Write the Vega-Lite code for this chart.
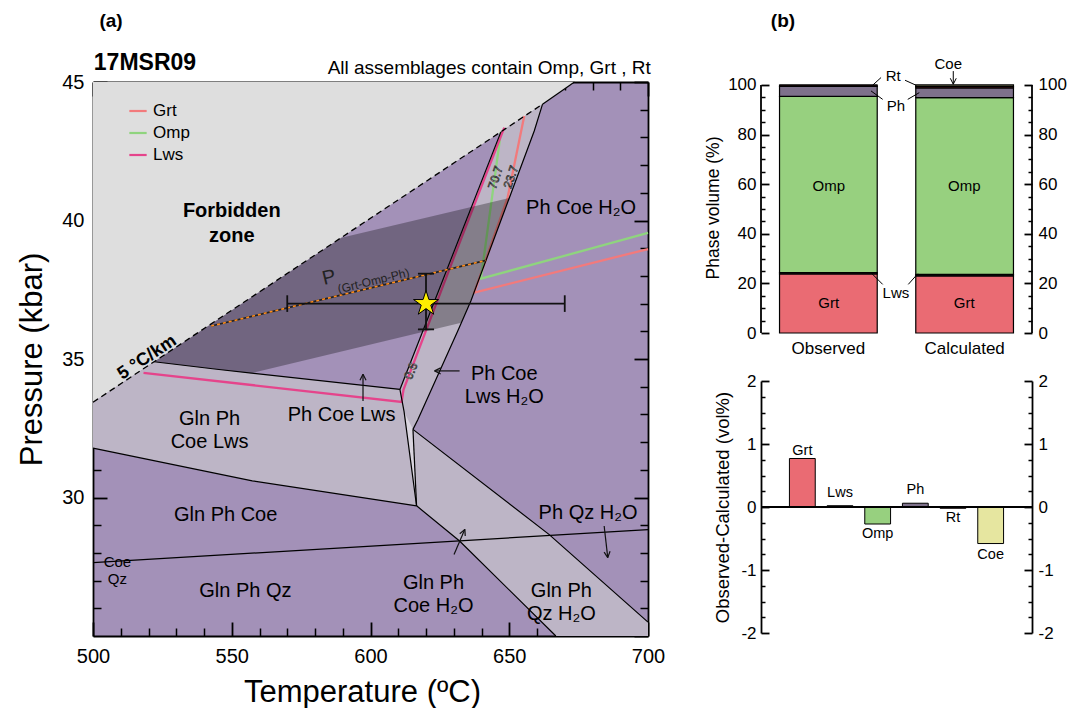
{
"$schema":"https://vega.github.io/schema/vega-lite/v6.json",
"background":"white",
"padding":{"left":16,"top":11,"right":5,"bottom":5},
"config":{"font":"Liberation Sans","view":{"stroke":null},"axis":{"grid":false,"labelFlush":false,"labelOverlap":false,"tickColor":"black","domainColor":"black","labelColor":"black","titleColor":"black","titleFontWeight":"normal","zindex":1},"legend":{"labelColor":"black"}},
"datasets":{
"fields":[
{"poly":"f0","kind":"forbidden","i":0,"T":500,"P":33.44},{"poly":"f0","kind":"forbidden","i":1,"T":662,"P":44.2},{"poly":"f0","kind":"forbidden","i":2,"T":673.5,"P":45},{"poly":"f0","kind":"forbidden","i":3,"T":500,"P":45},
{"poly":"f1","kind":"light","i":0,"T":500,"P":31.78},{"poly":"f1","kind":"light","i":1,"T":500,"P":33.44},{"poly":"f1","kind":"light","i":2,"T":522,"P":34.9},{"poly":"f1","kind":"light","i":3,"T":544.6,"P":34.63},{"poly":"f1","kind":"light","i":4,"T":610.6,"P":33.9},{"poly":"f1","kind":"light","i":5,"T":612.1,"P":33.1},{"poly":"f1","kind":"light","i":6,"T":616.6,"P":29.7},{"poly":"f1","kind":"light","i":7,"T":557.4,"P":30.6},
{"poly":"f2","kind":"light","i":0,"T":610.6,"P":33.9},{"poly":"f2","kind":"light","i":1,"T":647,"P":43.2},{"poly":"f2","kind":"light","i":2,"T":662,"P":44.2},{"poly":"f2","kind":"light","i":3,"T":659,"P":43.23},{"poly":"f2","kind":"light","i":4,"T":636.2,"P":37.1},{"poly":"f2","kind":"light","i":5,"T":631.4,"P":36.0},{"poly":"f2","kind":"light","i":6,"T":617,"P":32.8},{"poly":"f2","kind":"light","i":7,"T":615.3,"P":32.46},{"poly":"f2","kind":"light","i":8,"T":616.6,"P":29.7},{"poly":"f2","kind":"light","i":9,"T":612.1,"P":33.1},
{"poly":"f3","kind":"sliver","i":0,"T":612.1,"P":33.1},{"poly":"f3","kind":"sliver","i":1,"T":615.3,"P":32.46},{"poly":"f3","kind":"sliver","i":2,"T":616.6,"P":29.7},
{"poly":"f4","kind":"light","i":0,"T":615.3,"P":32.46},{"poly":"f4","kind":"light","i":1,"T":664.3,"P":28.67},{"poly":"f4","kind":"light","i":2,"T":700,"P":25.5},{"poly":"f4","kind":"light","i":3,"T":700,"P":25},{"poly":"f4","kind":"light","i":4,"T":666.8,"P":25},{"poly":"f4","kind":"light","i":5,"T":632.1,"P":28.43},{"poly":"f4","kind":"light","i":6,"T":616.6,"P":29.7}
],
"iso":[
{"iso":"Grt","i":0,"T":655.4,"P":43.77},{"iso":"Grt","i":1,"T":649.4,"P":40.82},{"iso":"Grt","i":2,"T":637.4,"P":37.4},{"iso":"Grt","i":3,"T":700,"P":38.97},
{"iso":"Omp","i":0,"T":647,"P":43.2},{"iso":"Omp","i":1,"T":639.8,"P":37.9},{"iso":"Omp","i":2,"T":700,"P":39.55},
{"iso":"Lws","i":0,"T":518.2,"P":34.5},{"iso":"Lws","i":1,"T":611.2,"P":33.45},{"iso":"Lws","i":2,"T":611.9,"P":33.9},{"iso":"Lws","i":3,"T":629.4,"P":38.5},{"iso":"Lws","i":4,"T":648.2,"P":43.35}
],
"shade":[
{"i":0,"T":589.5,"P":39.38},{"i":1,"T":522,"P":34.9},{"i":2,"T":544.6,"P":34.63},{"i":3,"T":557,"P":34.49},{"i":4,"T":632.7,"P":36.31},{"i":5,"T":636.2,"P":37.1},{"i":6,"T":650,"P":40.81}
],
"bnd":[
{"id":"A","i":0,"T":522,"P":34.9},{"id":"A","i":1,"T":544.6,"P":34.63},{"id":"A","i":2,"T":610.6,"P":33.9},
{"id":"B","i":0,"T":610.6,"P":33.9},{"id":"B","i":1,"T":647,"P":43.2},
{"id":"C","i":0,"T":662,"P":44.2},{"id":"C","i":1,"T":659,"P":43.23},{"id":"C","i":2,"T":636.2,"P":37.1},{"id":"C","i":3,"T":631.4,"P":36.0},{"id":"C","i":4,"T":617,"P":32.8},{"id":"C","i":5,"T":615.3,"P":32.46},
{"id":"S1","i":0,"T":610.6,"P":33.9},{"id":"S1","i":1,"T":612.1,"P":33.1},{"id":"S1","i":2,"T":616.6,"P":29.7},
{"id":"S2","i":0,"T":615.3,"P":32.46},{"id":"S2","i":1,"T":616.6,"P":29.7},
{"id":"G","i":0,"T":500,"P":31.78},{"id":"G","i":1,"T":557.4,"P":30.6},{"id":"G","i":2,"T":616.6,"P":29.7},
{"id":"H","i":0,"T":615.3,"P":32.46},{"id":"H","i":1,"T":664.3,"P":28.67},{"id":"H","i":2,"T":700,"P":25.5},
{"id":"I","i":0,"T":616.6,"P":29.7},{"id":"I","i":1,"T":632.1,"P":28.43},{"id":"I","i":2,"T":666.8,"P":25},
{"id":"J","i":0,"T":500,"P":27.65},{"id":"J","i":1,"T":700,"P":28.84},
{"id":"K","i":0,"T":662,"P":44.2},{"id":"K","i":1,"T":673.5,"P":45}
],
"geo":[{"i":0,"T":500,"P":33.44},{"i":1,"T":662,"P":44.2}],
"pl":[{"i":0,"T":542.6,"P":36.19},{"i":1,"T":641.6,"P":38.56}],
"err":[
{"T":570,"T2":670,"P":37,"P2":37},{"T":620,"T2":620,"P":36.07,"P2":38.08},
{"T":570,"T2":570,"P":36.7,"P2":37.3},{"T":670,"T2":670,"P":36.7,"P2":37.3},
{"T":617.1,"T2":622.9,"P":36.07,"P2":36.07},{"T":617.1,"T2":622.9,"P":38.08,"P2":38.08}
],
"arr":[
{"T":597.3,"T2":597.3,"P":33.48,"P2":34.45},{"T":597.3,"T2":596.2,"P":34.45,"P2":34.23},{"T":597.3,"T2":598.4,"P":34.45,"P2":34.23},
{"T":632.1,"T2":623.1,"P":34.57,"P2":34.57},{"T":623.1,"T2":625.3,"P":34.57,"P2":34.68},{"T":623.1,"T2":625.3,"P":34.57,"P2":34.46},
{"T":630.1,"T2":634,"P":27.94,"P2":28.85},{"T":634,"T2":634.14,"P":28.85,"P2":28.61},{"T":634,"T2":632.16,"P":28.85,"P2":28.69},
{"T":684.2,"T2":685.5,"P":28.97,"P2":27.83},{"T":685.5,"T2":686.33,"P":27.83,"P2":28.06},{"T":685.5,"T2":684.18,"P":27.83,"P2":28.03}
],
"txt":[
{"grp":"reg","T":675.9,"P":40.46,"t":"Ph Coe H₂O"},
{"grp":"reg","T":648.2,"P":34.45,"t":["Ph Coe","Lws H₂O"]},
{"grp":"reg","T":542,"P":32.82,"t":["Gln Ph","Coe Lws"]},
{"grp":"reg","T":589.6,"P":32.98,"t":"Ph Coe Lws"},
{"grp":"reg","T":547.8,"P":29.37,"t":"Gln Ph Coe"},
{"grp":"reg","T":554.9,"P":26.63,"t":"Gln Ph Qz"},
{"grp":"reg","T":622.7,"P":26.93,"t":["Gln Ph","Coe H₂O"]},
{"grp":"reg","T":678.4,"P":29.45,"t":"Ph Qz H₂O"},
{"grp":"reg","T":668.8,"P":26.62,"t":["Gln Ph","Qz H₂O"]},
{"grp":"small","T":508.8,"P":27.67,"t":["Coe","Qz"]},
{"grp":"bold","T":550,"P":40.35,"t":["Forbidden","zone"]},
{"grp":"geo","T":519.5,"P":35.05,"t":"5 °C/km"},
{"grp":"p","T":585.1,"P":37.94,"t":"P"},
{"grp":"sub","T":601.1,"P":37.82,"t":"(Grt-Omp-Ph)"},
{"grp":"iso72","T":645,"P":41.55,"t":"70.7"},
{"grp":"iso72","T":650.6,"P":41.57,"t":"23.7"},
{"grp":"iso68","T":614.6,"P":34.57,"t":"0.6"},
{"grp":"ha","T":506.5,"P":47.2,"t":"(a)"},
{"grp":"hs","T":500.3,"P":45.69,"t":"17MSR09"},
{"grp":"hr","T":701,"P":45.5,"t":"All assemblages contain Omp, Grt , Rt"}
],
"vol":[
{"sample":"Observed","phase":"Grt","k":1,"v":23.8},{"sample":"Observed","phase":"Lws","k":2,"v":0.6},{"sample":"Observed","phase":"Omp","k":3,"v":71.0},{"sample":"Observed","phase":"Ph","k":4,"v":4.0},{"sample":"Observed","phase":"Rt","k":5,"v":0.6},{"sample":"Observed","phase":"Coe","k":6,"v":0},
{"sample":"Calculated","phase":"Grt","k":1,"v":23.03},{"sample":"Calculated","phase":"Lws","k":2,"v":0.58},{"sample":"Calculated","phase":"Omp","k":3,"v":71.27},{"sample":"Calculated","phase":"Ph","k":4,"v":3.94},{"sample":"Calculated","phase":"Rt","k":5,"v":0.62},{"sample":"Calculated","phase":"Coe","k":6,"v":0.58}
],
"blab":[
{"sample":"Observed","lab":"Grt","v":12.2},{"sample":"Observed","lab":"Omp","v":59.3},
{"sample":"Calculated","lab":"Grt","v":12.2},{"sample":"Calculated","lab":"Omp","v":59.3}
],
"ann":[
{"t":"Rt","x":0.976,"v":103.6},{"t":"Ph","x":0.996,"v":91.5},{"t":"Lws","x":0.996,"v":16.3},{"t":"Coe","x":1.382,"v":108.5}
],
"lead":[
{"x":0.886,"x2":0.824,"v":103.0,"v2":99.9},{"x":1.063,"x2":1.144,"v":101.9,"v2":99.9},
{"x":0.898,"x2":0.812,"v":94.2,"v2":97.6},{"x":1.083,"x2":1.168,"v":94.2,"v2":96.9},
{"x":0.898,"x2":0.812,"v":19.6,"v2":24.3},{"x":1.087,"x2":1.157,"v":19.6,"v2":23.9},
{"x":1.419,"x2":1.419,"v":105.6,"v2":100.3},{"x":1.419,"x2":1.397,"v":100.3,"v2":102.7},{"x":1.419,"x2":1.441,"v":100.3,"v2":102.7}
],
"frame":[{"x":0,"v":0,"v2":100},{"x":2,"v":0,"v2":100}],
"diff":[
{"phase":"Grt","d":0.77},{"phase":"Lws","d":0.02},{"phase":"Omp","d":-0.27},{"phase":"Ph","d":0.06},{"phase":"Rt","d":-0.02},{"phase":"Coe","d":-0.58}
],
"dlab":[
{"phase":"Grt","v":0.886},{"phase":"Lws","v":0.223},{"phase":"Ph","v":0.277},{"phase":"Omp","v":-0.429},{"phase":"Rt","v":-0.175},{"phase":"Coe","v":-0.757}
]
},
"hconcat":[
{
"width":555,"height":554,
"view":{"fill":"#a391b8","stroke":null},
"resolve":{"axis":{"x":"independent","y":"independent"}},
"layer":[
{"data":{"name":"fields"},"mark":{"type":"line","interpolate":"linear-closed","strokeWidth":0},
 "encoding":{
  "x":{"field":"T","type":"quantitative","scale":{"domain":[500,700],"nice":false,"zero":false},"axis":{"orient":"bottom","values":[500,550,600,650,700],"tickSize":-14,"tickWidth":1.8,"labelPadding":24,"labelFontSize":20,"domain":true,"domainWidth":1.8,"title":"Temperature (ºC)","titleFontSize":31,"titlePadding":11,"titleX":269}},
  "y":{"field":"P","type":"quantitative","scale":{"domain":[25,45],"nice":false,"zero":false},"axis":{"orient":"left","values":[30,35,40,45],"tickSize":-14,"tickWidth":1.8,"labelPadding":23,"labelFontSize":20,"domain":true,"domainWidth":1.8,"title":"Pressure (kbar)","titleFontSize":31,"titlePadding":13}},
  "detail":{"field":"poly"},"order":{"field":"i"},
  "fill":{"field":"kind","type":"nominal","scale":{"domain":["forbidden","light","sliver"],"range":["#dedede","#bdb5c6","#d9d4de"]},"legend":null}}},
{"data":{"name":"iso"},"mark":{"type":"line","strokeWidth":2.3},
 "encoding":{
  "x":{"field":"T","type":"quantitative","scale":{"domain":[500,700],"nice":false,"zero":false},"axis":{"orient":"bottom","values":[510,520,530,540,560,570,580,590,610,620,630,640,660,670,680,690],"tickSize":-8,"tickWidth":1.5,"labels":false,"domain":false,"title":null}},
  "y":{"field":"P","type":"quantitative","scale":{"domain":[25,45],"nice":false,"zero":false},"axis":{"orient":"left","values":[26,27,28,29,31,32,33,34,36,37,38,39,41,42,43,44],"tickSize":-8,"tickWidth":1.5,"labels":false,"domain":false,"title":null}},
  "order":{"field":"i"},
  "color":{"field":"iso","type":"nominal","scale":{"domain":["Grt","Omp","Lws"],"range":["#f27a7c","#8fd47e","#e5448b"]},"legend":{"title":null,"orient":"none","legendX":35,"legendY":19,"symbolType":"stroke","symbolSize":300,"symbolStrokeWidth":2.2,"labelFontSize":17,"rowPadding":4,"labelOffset":5}}}},
{"data":{"name":"shade"},"mark":{"type":"line","interpolate":"linear-closed","fill":"black","fillOpacity":0.3,"strokeWidth":0},
 "encoding":{
  "x":{"field":"T","type":"quantitative","scale":{"domain":[500,700],"nice":false,"zero":false},"axis":{"orient":"top","values":[500,550,600,650,700],"tickSize":-14,"tickWidth":1.8,"labels":false,"domain":true,"domainWidth":1.8,"title":null}},
  "y":{"field":"P","type":"quantitative","scale":{"domain":[25,45],"nice":false,"zero":false},"axis":{"orient":"right","values":[25,30,35,40,45],"tickSize":-14,"tickWidth":1.8,"labels":false,"domain":true,"domainWidth":1.8,"title":null}},
  "order":{"field":"i"}}},
{"data":{"name":"bnd"},"mark":{"type":"line","color":"black","strokeWidth":1.2},
 "encoding":{
  "x":{"field":"T","type":"quantitative","scale":{"domain":[500,700],"nice":false,"zero":false},"axis":{"orient":"top","values":[510,520,530,540,560,570,580,590,610,620,630,640,660,670,680,690],"tickSize":-8,"tickWidth":1.5,"labels":false,"domain":false,"title":null}},
  "y":{"field":"P","type":"quantitative","scale":{"domain":[25,45],"nice":false,"zero":false},"axis":{"orient":"right","values":[26,27,28,29,31,32,33,34,36,37,38,39,41,42,43,44],"tickSize":-8,"tickWidth":1.5,"labels":false,"domain":false,"title":null}},
  "detail":{"field":"id"},"order":{"field":"i"}}},
{"data":{"name":"geo"},"mark":{"type":"line","color":"black","strokeWidth":1.3,"strokeDash":[6,4]},
 "encoding":{
  "x":{"field":"T","type":"quantitative","scale":{"domain":[500,700],"nice":false,"zero":false},"axis":null},
  "y":{"field":"P","type":"quantitative","scale":{"domain":[25,45],"nice":false,"zero":false},"axis":null},
  "order":{"field":"i"}}},
{"data":{"name":"pl"},"mark":{"type":"line","color":"#222222","strokeWidth":1.6},
 "encoding":{
  "x":{"field":"T","type":"quantitative","scale":{"domain":[500,700],"nice":false,"zero":false},"axis":null},
  "y":{"field":"P","type":"quantitative","scale":{"domain":[25,45],"nice":false,"zero":false},"axis":null},
  "order":{"field":"i"}}},
{"data":{"name":"pl"},"mark":{"type":"line","color":"#ff8c1a","strokeWidth":1.6,"strokeDash":[3,3]},
 "encoding":{
  "x":{"field":"T","type":"quantitative","scale":{"domain":[500,700],"nice":false,"zero":false},"axis":null},
  "y":{"field":"P","type":"quantitative","scale":{"domain":[25,45],"nice":false,"zero":false},"axis":null},
  "order":{"field":"i"}}},
{"data":{"name":"err"},"mark":{"type":"rule","color":"#111111","strokeWidth":1.8},
 "encoding":{
  "x":{"field":"T","type":"quantitative","scale":{"domain":[500,700],"nice":false,"zero":false},"axis":null},"x2":{"field":"T2"},
  "y":{"field":"P","type":"quantitative","scale":{"domain":[25,45],"nice":false,"zero":false},"axis":null},"y2":{"field":"P2"}}},
{"data":{"values":[{"T":620,"P":37}]},"mark":{"type":"point","shape":"M0,-1L0.2245,-0.309L0.9511,-0.309L0.3633,0.118L0.5878,0.809L0,0.382L-0.5878,0.809L-0.3633,0.118L-0.9511,-0.309L-0.2245,-0.309Z","size":690,"filled":true,"fill":"#ffee00","stroke":"black","strokeWidth":1,"opacity":1},
 "encoding":{
  "x":{"field":"T","type":"quantitative","scale":{"domain":[500,700],"nice":false,"zero":false},"axis":null},
  "y":{"field":"P","type":"quantitative","scale":{"domain":[25,45],"nice":false,"zero":false},"axis":null}}},
{"data":{"name":"arr"},"mark":{"type":"rule","color":"#111111","strokeWidth":1.2},
 "encoding":{
  "x":{"field":"T","type":"quantitative","scale":{"domain":[500,700],"nice":false,"zero":false},"axis":null},"x2":{"field":"T2"},
  "y":{"field":"P","type":"quantitative","scale":{"domain":[25,45],"nice":false,"zero":false},"axis":null},"y2":{"field":"P2"}}},
{"data":{"name":"txt"},"transform":[{"filter":"datum.grp == 'reg'"}],"mark":{"type":"text","fontSize":20,"lineHeight":23,"align":"center","baseline":"middle","color":"black"},
 "encoding":{
  "x":{"field":"T","type":"quantitative","scale":{"domain":[500,700],"nice":false,"zero":false},"axis":null},
  "y":{"field":"P","type":"quantitative","scale":{"domain":[25,45],"nice":false,"zero":false},"axis":null},
  "text":{"field":"t","type":"nominal"}}},
{"data":{"name":"txt"},"transform":[{"filter":"datum.grp == 'small'"}],"mark":{"type":"text","fontSize":15,"lineHeight":17,"align":"center","baseline":"middle","color":"black"},
 "encoding":{
  "x":{"field":"T","type":"quantitative","scale":{"domain":[500,700],"nice":false,"zero":false},"axis":null},
  "y":{"field":"P","type":"quantitative","scale":{"domain":[25,45],"nice":false,"zero":false},"axis":null},
  "text":{"field":"t","type":"nominal"}}},
{"data":{"name":"txt"},"transform":[{"filter":"datum.grp == 'bold'"}],"mark":{"type":"text","fontSize":20,"fontWeight":"bold","lineHeight":25,"align":"center","baseline":"middle","color":"black"},
 "encoding":{
  "x":{"field":"T","type":"quantitative","scale":{"domain":[500,700],"nice":false,"zero":false},"axis":null},
  "y":{"field":"P","type":"quantitative","scale":{"domain":[25,45],"nice":false,"zero":false},"axis":null},
  "text":{"field":"t","type":"nominal"}}},
{"data":{"name":"txt"},"transform":[{"filter":"datum.grp == 'geo'"}],"mark":{"type":"text","fontSize":18,"fontWeight":"bold","angle":-33.5,"align":"center","baseline":"middle","color":"black"},
 "encoding":{
  "x":{"field":"T","type":"quantitative","scale":{"domain":[500,700],"nice":false,"zero":false},"axis":null},
  "y":{"field":"P","type":"quantitative","scale":{"domain":[25,45],"nice":false,"zero":false},"axis":null},
  "text":{"field":"t","type":"nominal"}}},
{"data":{"name":"txt"},"transform":[{"filter":"datum.grp == 'p'"}],"mark":{"type":"text","fontSize":20,"angle":-13.5,"align":"center","baseline":"middle","color":"#222222"},
 "encoding":{
  "x":{"field":"T","type":"quantitative","scale":{"domain":[500,700],"nice":false,"zero":false},"axis":null},
  "y":{"field":"P","type":"quantitative","scale":{"domain":[25,45],"nice":false,"zero":false},"axis":null},
  "text":{"field":"t","type":"nominal"}}},
{"data":{"name":"txt"},"transform":[{"filter":"datum.grp == 'sub'"}],"mark":{"type":"text","fontSize":12,"angle":-13.5,"align":"center","baseline":"middle","color":"#222222"},
 "encoding":{
  "x":{"field":"T","type":"quantitative","scale":{"domain":[500,700],"nice":false,"zero":false},"axis":null},
  "y":{"field":"P","type":"quantitative","scale":{"domain":[25,45],"nice":false,"zero":false},"axis":null},
  "text":{"field":"t","type":"nominal"}}},
{"data":{"name":"txt"},"transform":[{"filter":"datum.grp == 'iso72'"}],"mark":{"type":"text","fontSize":12,"angle":-72,"align":"center","baseline":"middle","color":"white","stroke":"#222222","strokeWidth":0.7},
 "encoding":{
  "x":{"field":"T","type":"quantitative","scale":{"domain":[500,700],"nice":false,"zero":false},"axis":null},
  "y":{"field":"P","type":"quantitative","scale":{"domain":[25,45],"nice":false,"zero":false},"axis":null},
  "text":{"field":"t","type":"nominal"}}},
{"data":{"name":"txt"},"transform":[{"filter":"datum.grp == 'iso68'"}],"mark":{"type":"text","fontSize":12,"angle":-68,"align":"center","baseline":"middle","color":"white","stroke":"#222222","strokeWidth":0.7},
 "encoding":{
  "x":{"field":"T","type":"quantitative","scale":{"domain":[500,700],"nice":false,"zero":false},"axis":null},
  "y":{"field":"P","type":"quantitative","scale":{"domain":[25,45],"nice":false,"zero":false},"axis":null},
  "text":{"field":"t","type":"nominal"}}},
{"data":{"name":"txt"},"transform":[{"filter":"datum.grp == 'ha'"}],"mark":{"type":"text","fontSize":19,"fontWeight":"bold","align":"center","baseline":"middle","color":"black"},
 "encoding":{
  "x":{"field":"T","type":"quantitative","scale":{"domain":[500,700],"nice":false,"zero":false},"axis":null},
  "y":{"field":"P","type":"quantitative","scale":{"domain":[25,45],"nice":false,"zero":false},"axis":null},
  "text":{"field":"t","type":"nominal"}}},
{"data":{"name":"txt"},"transform":[{"filter":"datum.grp == 'hs'"}],"mark":{"type":"text","fontSize":23,"fontWeight":"bold","align":"left","baseline":"middle","color":"black"},
 "encoding":{
  "x":{"field":"T","type":"quantitative","scale":{"domain":[500,700],"nice":false,"zero":false},"axis":null},
  "y":{"field":"P","type":"quantitative","scale":{"domain":[25,45],"nice":false,"zero":false},"axis":null},
  "text":{"field":"t","type":"nominal"}}},
{"data":{"name":"txt"},"transform":[{"filter":"datum.grp == 'hr'"}],"mark":{"type":"text","fontSize":19,"align":"right","baseline":"middle","color":"black"},
 "encoding":{
  "x":{"field":"T","type":"quantitative","scale":{"domain":[500,700],"nice":false,"zero":false},"axis":null},
  "y":{"field":"P","type":"quantitative","scale":{"domain":[25,45],"nice":false,"zero":false},"axis":null},
  "text":{"field":"t","type":"nominal"}}}
]
},
{
"vconcat":[
{
"width":271,"height":251,
"resolve":{"scale":{"x":"independent"},"axis":{"x":"independent","y":"independent"}},
"layer":[
{"data":{"name":"vol"},"mark":{"type":"bar","stroke":"black","strokeWidth":1.2},
 "encoding":{
  "x":{"field":"sample","type":"nominal","sort":["Observed","Calculated"],"scale":{"paddingInner":0.283,"paddingOuter":0.136},"axis":{"orient":"bottom","title":null,"labelAngle":0,"labelFontSize":17,"labelPadding":7,"ticks":false,"domain":false}},
  "y":{"field":"v","type":"quantitative","stack":"zero","scale":{"domain":[0,101.2],"nice":false},"axis":{"orient":"left","values":[0,20,40,60,80,100],"tickSize":-8,"tickWidth":1.8,"labelPadding":13,"labelFontSize":17,"domain":false,"title":"Phase volume (%)","titleFontSize":17.5,"titlePadding":5}},
  "fill":{"field":"phase","type":"nominal","scale":{"domain":["Grt","Lws","Omp","Ph","Rt","Coe"],"range":["#ea6b73","#1e1e1e","#97d07f","#7e718b","#7a2228","#e6e6a0"]},"legend":null},
  "order":{"field":"k"}}},
{"data":{"name":"blab"},"mark":{"type":"text","fontSize":15,"color":"black","baseline":"middle"},
 "encoding":{
  "x":{"field":"sample","type":"nominal","sort":["Observed","Calculated"],"scale":{"paddingInner":0.283,"paddingOuter":0.136},"axis":null},
  "y":{"field":"v","type":"quantitative","scale":{"domain":[0,101.2],"nice":false},"axis":{"orient":"left","values":[5,10,15,25,30,35,45,50,55,65,70,75,85,90,95],"tickSize":-4,"tickWidth":1.5,"labels":false,"domain":false,"title":null}},
  "text":{"field":"lab","type":"nominal"}}},
{"data":{"name":"ann"},"mark":{"type":"text","fontSize":15,"color":"black","baseline":"middle"},
 "encoding":{
  "x":{"field":"x","type":"quantitative","scale":{"domain":[0,2],"nice":false,"zero":false},"axis":null},
  "y":{"field":"v","type":"quantitative","scale":{"domain":[0,101.2],"nice":false},"axis":{"orient":"right","values":[0,20,40,60,80,100],"tickSize":-8,"tickWidth":1.8,"labelPadding":14,"labelFontSize":17,"domain":false,"title":null}},
  "text":{"field":"t","type":"nominal"}}},
{"data":{"name":"lead"},"mark":{"type":"rule","color":"black","strokeWidth":1},
 "encoding":{
  "x":{"field":"x","type":"quantitative","scale":{"domain":[0,2],"nice":false,"zero":false},"axis":null},"x2":{"field":"x2"},
  "y":{"field":"v","type":"quantitative","scale":{"domain":[0,101.2],"nice":false},"axis":{"orient":"right","values":[5,10,15,25,30,35,45,50,55,65,70,75,85,90,95],"tickSize":-4,"tickWidth":1.5,"labels":false,"domain":false,"title":null}},"y2":{"field":"v2"}}},
{"data":{"name":"frame"},"mark":{"type":"rule","color":"black","strokeWidth":1.8},
 "encoding":{
  "x":{"field":"x","type":"quantitative","scale":{"domain":[0,2],"nice":false,"zero":false},"axis":null},
  "y":{"field":"v","type":"quantitative","scale":{"domain":[0,101.2],"nice":false},"axis":null},"y2":{"field":"v2"}}},
{"data":{"values":[{"t":"(b)","x":0.162,"v":125.8}]},"mark":{"type":"text","fontSize":19,"fontWeight":"bold","color":"black","baseline":"middle"},
 "encoding":{
  "x":{"field":"x","type":"quantitative","scale":{"domain":[0,2],"nice":false,"zero":false},"axis":null},
  "y":{"field":"v","type":"quantitative","scale":{"domain":[0,101.2],"nice":false},"axis":null},
  "text":{"field":"t","type":"nominal"}}}
]
},
{
"width":271,"height":252,
"resolve":{"axis":{"y":"independent"}},
"layer":[
{"data":{"name":"diff"},"mark":{"type":"bar","stroke":"black","strokeWidth":1},
 "encoding":{
  "x":{"field":"phase","type":"nominal","sort":["Grt","Lws","Omp","Ph","Rt","Coe"],"scale":{"paddingInner":0.315,"paddingOuter":0.755},"axis":null},
  "y":{"field":"d","type":"quantitative","scale":{"domain":[-2,2],"nice":false},"axis":{"orient":"left","values":[-2,-1,0,1,2],"labelExpr":"replace(datum.label, '−', '-')","tickSize":-8,"tickWidth":1.8,"labelPadding":13,"labelFontSize":17,"domain":true,"domainWidth":1.8,"title":"Observed-Calculated (vol%)","titleFontSize":18.5,"titlePadding":8}},
  "fill":{"field":"phase","type":"nominal","scale":{"domain":["Grt","Lws","Omp","Ph","Rt","Coe"],"range":["#ea6b73","#1e1e1e","#97d07f","#7e718b","#7a2228","#e6e6a0"]},"legend":null}}},
{"data":{"name":"dlab"},"transform":[{"filter":"datum.v >= 0"}],"mark":{"type":"text","fontSize":14.5,"color":"black","baseline":"middle"},
 "encoding":{
  "x":{"field":"phase","type":"nominal","sort":["Grt","Lws","Omp","Ph","Rt","Coe"],"scale":{"paddingInner":0.315,"paddingOuter":0.755},"axis":null},
  "y":{"field":"v","type":"quantitative","scale":{"domain":[-2,2],"nice":false},"axis":{"orient":"left","values":[-1.75,-1.5,-1.25,-0.75,-0.5,-0.25,0.25,0.5,0.75,1.25,1.5,1.75],"tickSize":-4,"tickWidth":1.5,"labels":false,"domain":false,"title":null}},
  "text":{"field":"phase","type":"nominal"}}},
{"data":{"name":"dlab"},"transform":[{"filter":"datum.v < 0"}],"mark":{"type":"text","fontSize":14.5,"color":"black","baseline":"middle"},
 "encoding":{
  "x":{"field":"phase","type":"nominal","sort":["Grt","Lws","Omp","Ph","Rt","Coe"],"scale":{"paddingInner":0.315,"paddingOuter":0.755},"axis":null},
  "y":{"field":"v","type":"quantitative","scale":{"domain":[-2,2],"nice":false},"axis":{"orient":"right","values":[-2,-1,0,1,2],"labelExpr":"replace(datum.label, '−', '-')","tickSize":-8,"tickWidth":1.8,"labelPadding":14,"labelFontSize":17,"domain":true,"domainWidth":1.8,"title":null}},
  "text":{"field":"phase","type":"nominal"}}},
{"data":{"values":[{}]},"mark":{"type":"rule","color":"black","strokeWidth":2},
 "encoding":{
  "y":{"datum":0,"type":"quantitative","scale":{"domain":[-2,2],"nice":false},"axis":{"orient":"right","values":[-1.75,-1.5,-1.25,-0.75,-0.5,-0.25,0.25,0.5,0.75,1.25,1.5,1.75],"tickSize":-4,"tickWidth":1.5,"labels":false,"domain":false,"title":null}}}}
]
}
],
"spacing":48,"bounds":"flush",
"resolve":{"scale":{"fill":"independent","color":"independent"}}
}
],
"spacing":113,"bounds":"flush",
"resolve":{"scale":{"color":"independent","fill":"independent"}}
}
